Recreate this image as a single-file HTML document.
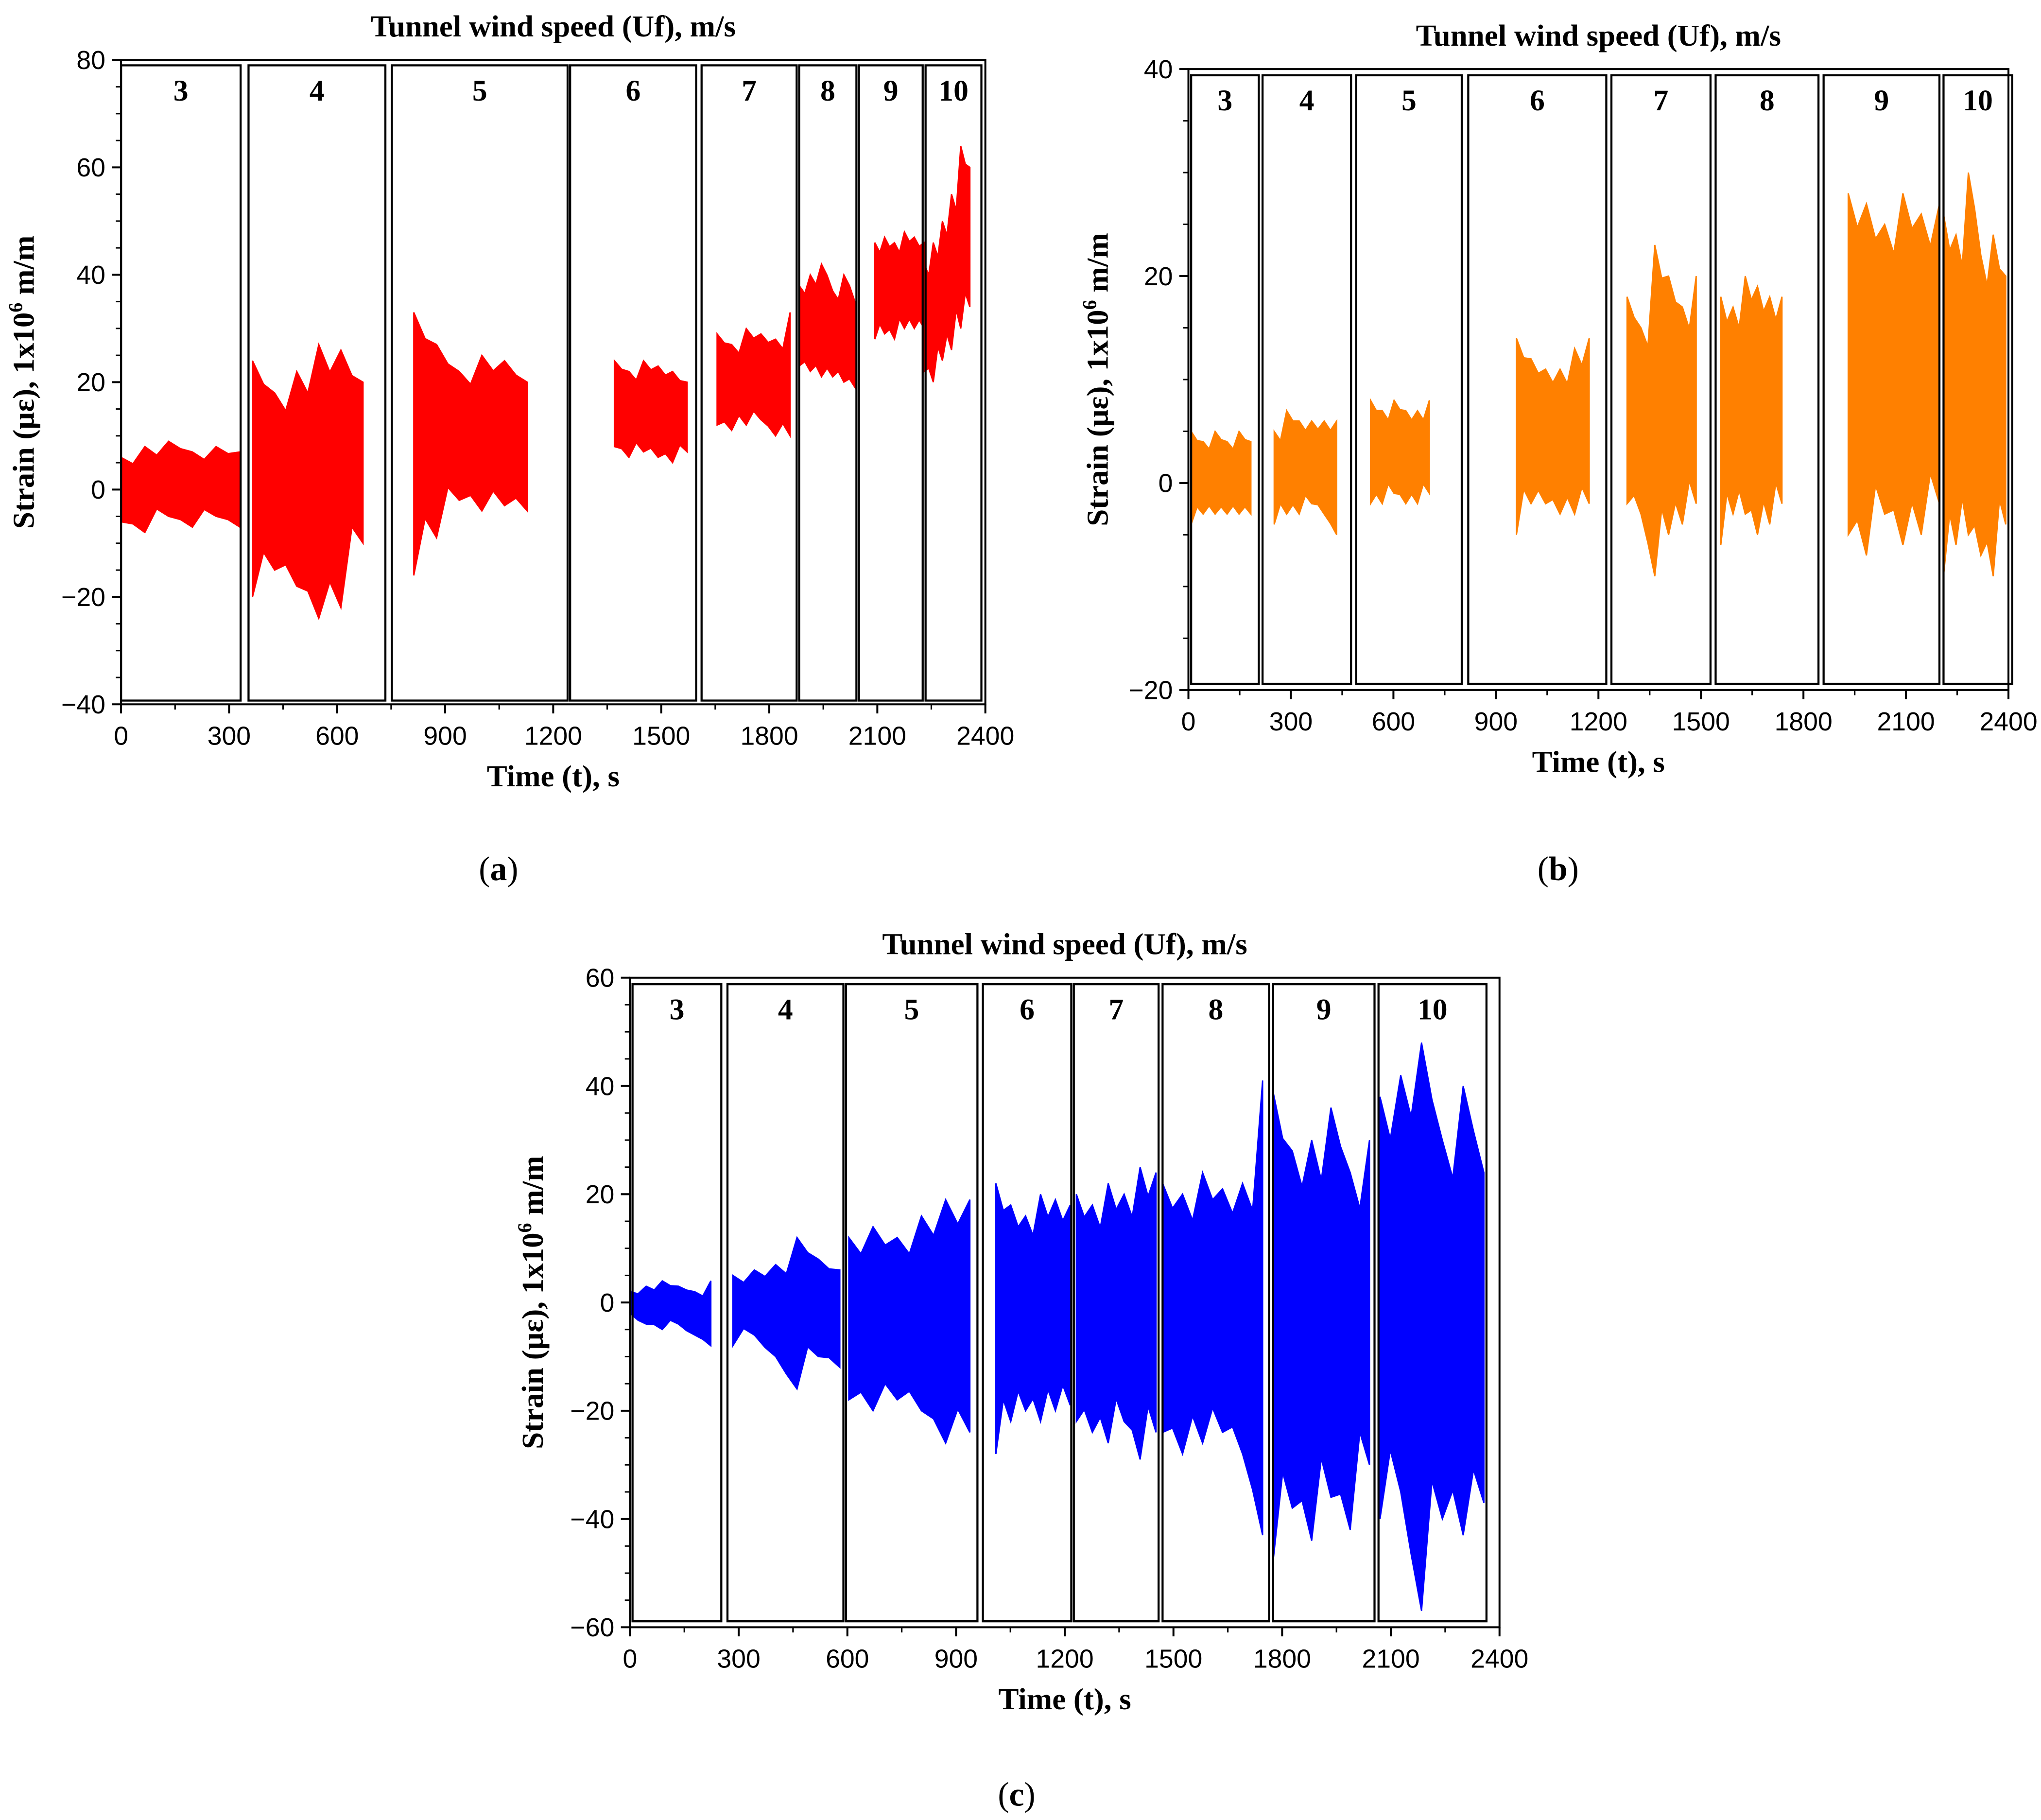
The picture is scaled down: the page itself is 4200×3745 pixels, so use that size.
<!DOCTYPE html>
<html><head><meta charset="utf-8">
<style>
html,body{margin:0;padding:0;background:#fff;}
svg{display:block;}
.tk{font-family:"Liberation Sans",sans-serif;font-size:20px;fill:#000;}
.ti{font-family:"Liberation Serif",serif;font-size:23.5px;font-weight:bold;fill:#000;}
.bx{font-family:"Liberation Serif",serif;font-size:23px;font-weight:bold;fill:#000;}
.pl{font-family:"Liberation Serif",serif;font-size:26px;fill:#000;}
</style></head>
<body>
<svg id="fig" width="4200" height="3745" viewBox="0 0 1568 1398" xmlns="http://www.w3.org/2000/svg"></svg>
<script>
// ---- Data (time in s, strain in microstrain) ----
const windLabels = ["3","4","5","6","7","8","9","10"];
const xTicks = [0,300,600,900,1200,1500,1800,2100,2400];
const yTicksA = [-40,-20,0,20,40,60,80];
const yTicksB = [-20,0,20,40];
const yTicksC = [-60,-40,-20,0,20,40,60];

const boxesA = [[0,332],[354,734],[752,1240],[1247,1597],[1612,1876],[1883,2042],[2049,2226],[2234,2389]];
const boxesB = [[8,206],[217,476],[491,800],[819,1223],[1238,1528],[1543,1844],[1859,2198],[2210,2411]];
const boxesC = [[7,252],[269,589],[596,959],[974,1218],[1225,1459],[1470,1764],[1775,2055],[2066,2364]];

const segTimesA = [[0,330],[365,672],[813,1128],[1370,1572],[1655,1858],[1883,2038],[2093,2230],[2230,2357]];
const segHiA = [[6,8,9,7,8,7],[24,18,22,27,26,20],[33,27,22,25,24,20],[24,22,24,23,22,20],[29,27,30,29,28,33],[38,40,42,37,40,35],[46,47,46,48,47,46],[42,46,50,55,64,60]];
const segLoA = [[-6,-8,-5,-7,-5,-7],[-20,-15,-18,-24,-22,-10],[-16,-9,-2,-4,-3,-4],[8,6,7,6,5,7],[12,11,12,13,10,10],[23,22,21,21,20,19],[28,29,28,30,30,30],[22,20,24,26,30,34]];

const segTimesB = [[8,183],[251,434],[533,705],[960,1173],[1284,1486],[1558,1737],[1931,2198],[2210,2392]];
const segHiB = [[5,4,5,4,5,4],[5,7,6,6,6,6],[8,7,8,7,7,8],[14,12,11,11,13,14],[18,15,23,20,17,20],[18,17,20,19,18,18],[28,27,25,28,26,27],[26,24,30,22,24,20]];
const segLoB = [[-4,-3,-3,-3,-3,-3],[-4,-3,-3,-2,-3,-5],[-2,-2,-1,-2,-2,-1],[-5,-2,-2,-3,-3,-2],[-2,-3,-9,-5,-4,-2],[-6,-3,-3,-5,-4,-2],[-5,-7,-3,-6,-5,-2],[-9,-6,-5,-7,-9,-4]];

const segTimesC = [[0,223],[284,579],[604,938],[1010,1215],[1232,1452],[1470,1746],[1775,2041],[2070,2357]];
const segHiC = [[2,3,4,3,2,4],[5,6,7,12,8,6],[12,14,12,16,19,19],[22,18,16,20,19,18],[20,18,22,20,25,24],[22,20,24,21,22,41],[39,28,30,36,24,30],[38,42,48,30,40,24]];
const segLoC = [[-2,-4,-5,-4,-6,-8],[-8,-6,-10,-16,-10,-12],[-18,-20,-18,-20,-26,-24],[-28,-22,-20,-22,-20,-19],[-22,-24,-26,-22,-29,-24],[-24,-28,-26,-24,-28,-43],[-48,-38,-44,-36,-42,-30],[-40,-35,-57,-40,-43,-37]];

const NS="http://www.w3.org/2000/svg";
const svg=document.getElementById('fig');
function mk(tag,attrs,parent,text){const e=document.createElementNS(NS,tag);for(const k in attrs)e.setAttribute(k,attrs[k]);if(text!==undefined)e.textContent=text;(parent||svg).appendChild(e);return e;}

function panel(p){
  const g=mk('g',{});
  
  
  const X=t=>p.x0+(t-0)/2400*(p.x1-p.x0);
  const Y=v=>p.y1-(v-p.ymin)/(p.ymax-p.ymin)*(p.y1-p.y0);
  for(let i=0;i<p.segT.length;i++){
    const [t0,t1]=p.segT[i], hi=p.hi[i], lo=p.lo[i], n=hi.length;
    let pts=[];
    for(let j=0;j<n;j++){const t=t0+(t1-t0)*j/(n-1);pts.push(X(t).toFixed(1)+','+Y(hi[j]).toFixed(1));
      if(j<n-1){const tm=t0+(t1-t0)*(j+0.5)/(n-1);pts.push(X(tm).toFixed(1)+','+Y((hi[j]+lo[j])/2+(hi[j]-lo[j])*0.4).toFixed(1));}}
    for(let j=n-1;j>=0;j--){const t=t0+(t1-t0)*j/(n-1);pts.push(X(t).toFixed(1)+','+Y(lo[j]).toFixed(1));
      if(j>0){const tm=t0+(t1-t0)*(j-0.5)/(n-1);pts.push(X(tm).toFixed(1)+','+Y((hi[j]+lo[j])/2-(hi[j]-lo[j])*0.4).toFixed(1));}}
    const s=mk('polygon',{points:pts.join(' '),fill:p.color,stroke:p.color,'stroke-width':1},g);
    
    
  }
  for(let i=0;i<p.boxes.length;i++){
    const [b0,b1]=p.boxes[i];
    const r=mk('rect',{x:X(b0),y:Y(p.boxTop),width:X(b1)-X(b0),height:Y(p.boxBot)-Y(p.boxTop),fill:'none',stroke:'#000','stroke-width':1.6},g);
    
    
    const t=mk('text',{x:(X(b0)+X(b1))/2,y:Y(p.boxTop)+27,'text-anchor':'middle',class:'bx'},g,windLabels[i]);
    
    
  }
  const f=mk('rect',{x:p.x0,y:p.y0,width:p.x1-p.x0,height:p.y1-p.y0,fill:'none',stroke:'#000','stroke-width':1.5},g);
  
  
  for(const t of xTicks){
    mk('line',{x1:X(t),x2:X(t),y1:p.y1,y2:p.y1+7,stroke:'#000','stroke-width':1.5},g);
    const l=mk('text',{x:X(t),y:p.y1+31,'text-anchor':'middle',class:'tk'},g,String(t));
    
    
  }
  for(let t=150;t<2400;t+=300) mk('line',{x1:X(t),x2:X(t),y1:p.y1,y2:p.y1+4,stroke:'#000','stroke-width':1.2},g);
  for(const v of p.yTicks){
    mk('line',{x1:p.x0-7,x2:p.x0,y1:Y(v),y2:Y(v),stroke:'#000','stroke-width':1.5},g);
    const l=mk('text',{x:p.x0-12,y:Y(v)+7,'text-anchor':'end',class:'tk'},g,v<0?'\u2212'+(-v):String(v));
    
    
  }
  for(let v=p.ymin+5;v<p.ymax;v+=5){ if(v%20!==0) mk('line',{x1:p.x0-4,x2:p.x0,y1:Y(v),y2:Y(v),stroke:'#000','stroke-width':1.1},g); }
  const tt=mk('text',{x:(p.x0+p.x1)/2,y:p.y0-18,'text-anchor':'middle',class:'ti'},g,'Tunnel wind speed (Uf), m/s');
  
  
  const xt=mk('text',{x:(p.x0+p.x1)/2,y:p.y1+63,'text-anchor':'middle',class:'ti'},g,'Time (t), s');
  
  
  const cy=(p.y0+p.y1)/2;
  const ya=mk('text',{x:p.yTitleX,y:cy,'text-anchor':'middle',class:'ti',transform:'rotate(-90 '+p.yTitleX+' '+cy+')'},g);
  
  
  ya.innerHTML='Strain (\u03bc\u03b5), 1x10<tspan dy="-9" font-size="15">6</tspan><tspan dy="9"> m/m</tspan>';
  const pl=mk('text',{x:p.labX,y:p.labY,'text-anchor':'middle',class:'pl'},g);
  
  
  pl.innerHTML='(<tspan font-weight="bold">'+p.id+'</tspan>)';
}

panel({id:'a',x0:93,x1:757,y0:46,y1:541,ymin:-40,ymax:80,yTicks:yTicksA,color:'#ff0000',
  segT:segTimesA,hi:segHiA,lo:segLoA,boxes:boxesA,boxTop:79,boxBot:-39.3,yTitleX:26,labX:383,labY:676});
panel({id:'b',x0:913,x1:1543,y0:53,y1:530,ymin:-20,ymax:40,yTicks:yTicksB,color:'#ff8000',
  segT:segTimesB,hi:segHiB,lo:segLoB,boxes:boxesB,boxTop:39.4,boxBot:-19.4,yTitleX:851,labX:1197,labY:676});
panel({id:'c',x0:484,x1:1152,y0:751,y1:1250,ymin:-60,ymax:60,yTicks:yTicksC,color:'#0000ff',
  segT:segTimesC,hi:segHiC,lo:segLoC,boxes:boxesC,boxTop:58.8,boxBot:-58.9,yTitleX:417,labX:781,labY:1387});
</script>
</body></html>
